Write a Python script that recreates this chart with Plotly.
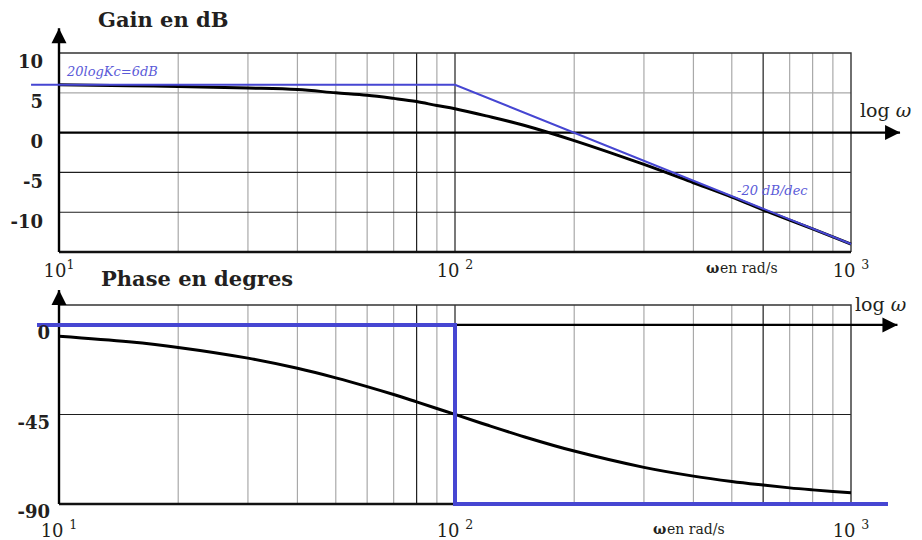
import plotly.graph_objects as go

# ---------------- data ----------------
omega = [10, 15, 20, 30, 40, 50, 60, 70, 80, 90, 100, 120, 150, 200, 300, 400, 500, 600, 700, 800, 900, 1000]
gain_db = [6.0, 5.9, 5.8, 5.6, 5.4, 5.0, 4.7, 4.3, 3.9, 3.4, 3.0, 2.1, 0.9, -1.0, -4.0, -6.3, -8.1, -9.7, -11.0, -12.1, -13.1, -14.0]
phase_deg = [-5.7, -8.5, -11.3, -16.7, -21.8, -26.6, -31.0, -35.0, -38.7, -42.0, -45.0, -50.2, -56.3, -63.4, -71.6, -76.0, -78.7, -80.5, -81.9, -82.9, -83.7, -84.3]

asym_gain_omega = [8.5, 100, 1000]
asym_gain_db = [6, 6, -14]
asym_phase_omega = [8.8, 100, 100, 1240]
asym_phase_deg = [0, 0, -90, -90]

omega_min, omega_max = 10, 1000
grid_light = [20, 30, 40, 50, 60, 70, 90, 200, 300, 400, 500, 700, 800, 900]
grid_dark = [80, 100, 600]

gain_min, gain_max = -15, 10
gain_grid_light = [5]
gain_grid_dark = [-5, -10]
gain_ticks = [-10, -5, 0, 5, 10]
gain_ticktext = ["-10", "-5", "0", "5", "10"]

phase_min, phase_max = -90, 10
phase_grid_dark = [-45]
phase_ticks = [-90, -45, 0]
phase_ticktext = ["-90", "-45", "0"]

x_ticks = [10, 100, 1000]
x_ticktext_gain = ["10<sup>1</sup>", "10 <sup>2</sup>", "10 <sup>3</sup>"]
x_ticktext_phase = ["10 <sup>1</sup>", "10 <sup>2</sup>", "10 <sup>3</sup>"]

gain_arrow_omega, gain_arrow_top = 1330, 13.1
phase_arrow_omega, phase_arrow_top = 1310, 17.5

# ---------------- layout geometry ----------------
W, H = 922, 540
BOX_L, BOX_R = 59, 851
DEC_PX = (BOX_R - BOX_L) / 2.0
X_RANGE = [1 - BOX_L / DEC_PX, 1 + (W - BOX_L) / DEC_PX]


def ydomain(top_px, bot_px, vmin, vmax, rmin, rmax):
    ppu = (bot_px - top_px) / (vmax - vmin)
    top_r = top_px - (rmax - vmax) * ppu
    bot_r = bot_px + (vmin - rmin) * ppu
    return [1 - bot_r / H, 1 - top_r / H]


GAIN_RANGE = [-16.5, 14.5]
PHASE_RANGE = [-95, 20]
gain_dom = ydomain(53, 252, gain_min, gain_max, *GAIN_RANGE)
phase_dom = ydomain(305, 504, phase_min, phase_max, *PHASE_RANGE)

BLUE = "#4646d2"
BLUE_TXT = "#5a5ad8"
TXT = "#231f20"
LIGHT = "#a9a9a9"
DARK = "#1e1e1e"
SERIF = "DejaVu Serif"

fig = go.Figure()


def add_line(xs, ys, color, width, xa, ya, shape="linear"):
    fig.add_trace(go.Scatter(x=xs, y=ys, mode="lines", xaxis=xa, yaxis=ya,
                             line=dict(color=color, width=width, shape=shape),
                             hoverinfo="skip", showlegend=False))


def add_arrow(xs, ys, symbol, xa, ya):
    fig.add_trace(go.Scatter(x=xs, y=ys, mode="lines", xaxis=xa, yaxis=ya,
                             line=dict(color="#000000", width=2.4),
                             hoverinfo="skip", showlegend=False))
    fig.add_trace(go.Scatter(x=[xs[-1]], y=[ys[-1]], mode="markers", xaxis=xa, yaxis=ya,
                             marker=dict(symbol=symbol, size=15, color="#000000",
                                         line=dict(width=0)),
                             hoverinfo="skip", showlegend=False, cliponaxis=False))


def vlines(xs, y0, y1):
    ox, oy = [], []
    for v in xs:
        ox += [v, v, None]
        oy += [y0, y1, None]
    return ox, oy


def hlines(ys, x0, x1):
    ox, oy = [], []
    for v in ys:
        ox += [x0, x1, None]
        oy += [v, v, None]
    return ox, oy


for xa, ya, ymin, ymax, hl_light, hl_dark in [
    ("x", "y", gain_min, gain_max, gain_grid_light, gain_grid_dark),
    ("x2", "y2", phase_min, phase_max, [], phase_grid_dark),
]:
    gx, gy = vlines(grid_light, ymin, ymax)
    add_line(gx, gy, LIGHT, 1.2, xa, ya)
    if hl_light:
        gx, gy = hlines(hl_light, omega_min, omega_max)
        add_line(gx, gy, LIGHT, 1.2, xa, ya)
    gx, gy = vlines(grid_dark, ymin, ymax)
    add_line(gx, gy, DARK, 1.2, xa, ya)
    gx, gy = hlines(hl_dark, omega_min, omega_max)
    add_line(gx, gy, DARK, 1.1, xa, ya)
    # box: top and right thin, bottom thick
    add_line([omega_min, omega_max, omega_max], [ymax, ymax, ymin], "#333333", 1.4, xa, ya)
    add_line([omega_min, omega_max], [ymin, ymin], "#111111", 2.6, xa, ya)

# axis arrows (vertical axis at omega_min, horizontal axis at 0)
add_arrow([omega_min, gain_arrow_omega], [0, 0], "arrow-right", "x", "y")
add_arrow([omega_min, omega_min], [gain_min, gain_arrow_top], "arrow-up", "x", "y")
add_arrow([omega_min, phase_arrow_omega], [0, 0], "arrow-right", "x2", "y2")
add_arrow([omega_min, omega_min], [phase_min, phase_arrow_top], "arrow-up", "x2", "y2")

# gain curves
add_line(omega, gain_db, "#000000", 3, "x", "y", shape="spline")
add_line(asym_gain_omega, asym_gain_db, BLUE, 2, "x", "y")

# phase curves
add_line(omega, phase_deg, "#000000", 3, "x2", "y2", shape="spline")
add_line(asym_phase_omega, asym_phase_deg, BLUE, 4, "x2", "y2")

annotations = []


def text(x, y, s, size, color=TXT, bold=False, italic=False, anchor="center", family=SERIF):
    annotations.append(dict(x=x / W, y=1 - y / H, xref="paper", yref="paper", showarrow=False,
                            text=s,
                            font=dict(family=family, size=size, color=color,
                                      weight="bold" if bold else "normal",
                                      style="italic" if italic else "normal"),
                            xanchor=anchor, yanchor="middle"))


text(163, 19, "Gain en dB", 21, bold=True)
text(197, 278, "Phase en degres", 21, bold=True)
text(885, 110, "log <i>ω</i>", 19)
text(880, 304, "log <i>ω</i>", 19)
text(704, 268, "ω", 14, bold=True, anchor="left")
text(718, 268, "en rad/s", 14, anchor="left")
text(651, 529, "ω", 14, bold=True, anchor="left")
text(665, 529, "en rad/s", 14, anchor="left")
text(112, 72, "20logKc=6dB", 13, color=BLUE_TXT, italic=True)
text(772, 190, "-20 dB/dec", 13, color=BLUE_TXT, italic=True)

xcommon = dict(type="log", range=X_RANGE, domain=[0, 1], anchor="free", showgrid=False,
               zeroline=False, showline=False, ticks="", tickvals=x_ticks, automargin=False,
               tickfont=dict(family=SERIF, size=18, color=TXT), fixedrange=True)
ycommon = dict(anchor="free", showgrid=False, zeroline=False, showline=False, ticks="",
               automargin=False,
               tickfont=dict(family=SERIF, size=18, color=TXT, weight="bold"), fixedrange=True)

fig.update_layout(
    width=W, height=H, margin=dict(l=0, r=0, t=0, b=0, autoexpand=False),
    paper_bgcolor="white", plot_bgcolor="rgba(0,0,0,0)",
    xaxis=dict(xcommon, ticktext=x_ticktext_gain, position=1 - 258 / H),
    yaxis=dict(ycommon, domain=gain_dom, range=GAIN_RANGE, tickvals=gain_ticks,
               ticktext=gain_ticktext, position=43 / W, ticklabelshift=9),
    xaxis2=dict(xcommon, ticktext=x_ticktext_phase, position=1 - 518 / H),
    yaxis2=dict(ycommon, domain=phase_dom, range=PHASE_RANGE, tickvals=phase_ticks,
                ticktext=phase_ticktext, position=50 / W, ticklabelshift=8),
    annotations=annotations,
)

fig.write_html("out.html")
